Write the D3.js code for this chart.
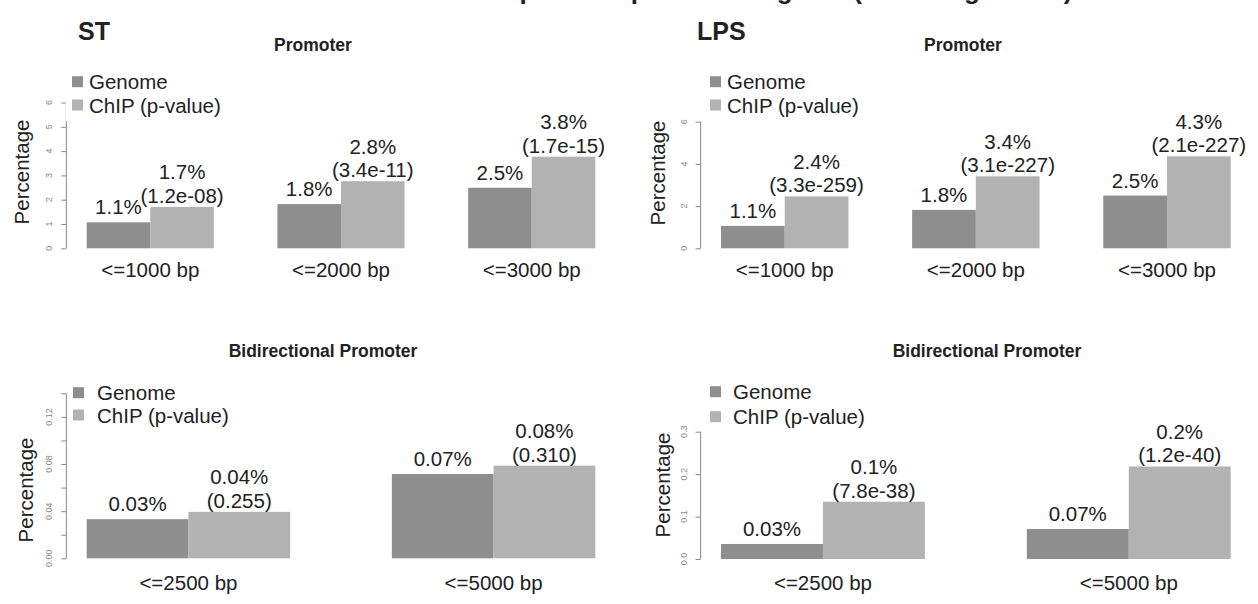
<!DOCTYPE html>
<html lang="en">
<head>
<meta charset="utf-8">
<title>Promoter enrichment</title>
<script src="https://d3js.org/d3.v7.min.js"></script>
<style>
  body { margin: 0; background: white; }
  text { font-family: "Liberation Sans", Arial, sans-serif; fill: #222; }
  .head { font-family: "Liberation Sans Narrow", "Liberation Sans", Arial, sans-serif; font-weight: bold; }
</style>
</head>
<body>
<div id="chart"></div>
<script>
// ---- data ----
var seriesNames = ["Genome", "ChIP (p-value)"];

var promoterCats = ["<=1000 bp", "<=2000 bp", "<=3000 bp"];
var bidirCats = ["<=2500 bp", "<=5000 bp"];

// ST, promoter
var stPromGenome = [1.07, 1.82, 2.49];
var stPromChip = [1.70, 2.76, 3.77];
var stPromGenomeLab = ["1.1%", "1.8%", "2.5%"];
var stPromChipLab = [["1.7%", "(1.2e-08)"], ["2.8%", "(3.4e-11)"], ["3.8%", "(1.7e-15)"]];

// LPS, promoter
var lpsPromGenome = [1.06, 1.82, 2.50];
var lpsPromChip = [2.46, 3.41, 4.36];
var lpsPromGenomeLab = ["1.1%", "1.8%", "2.5%"];
var lpsPromChipLab = [["2.4%", "(3.3e-259)"], ["3.4%", "(3.1e-227)"], ["4.3%", "(2.1e-227)"]];

// ST, bidirectional promoter
var stBiGenome = [0.0332, 0.0715];
var stBiChip = [0.0394, 0.0786];
var stBiGenomeLab = ["0.03%", "0.07%"];
var stBiChipLab = [["0.04%", "(0.255)"], ["0.08%", "(0.310)"]];

// LPS, bidirectional promoter
var lpsBiGenome = [0.0354, 0.0708];
var lpsBiChip = [0.135, 0.218];
var lpsBiGenomeLab = ["0.03%", "0.07%"];
var lpsBiChipLab = [["0.1%", "(7.8e-38)"], ["0.2%", "(1.2e-40)"]];

// y ticks
var promTicksST = [0, 1, 2, 3, 4, 5, 6];
var promTicksLPS = [0, 2, 4, 6];
var biTicksST = [0, 0.02, 0.04, 0.06, 0.08, 0.10, 0.12, 0.14];
var biTickLabST = ["0.00", "", "0.04", "", "0.08", "", "0.12", ""];
var biTicksLPS = [0, 0.1, 0.2, 0.3];
var biTickLabLPS = ["0.0", "0.1", "0.2", "0.3"];

var colors = ["#8e8e8e", "#b2b2b2"];
var fs = "20.5px";

var width = 1258, height = 604;

var svg = d3.select("#chart").append("svg")
  .attr("width", width)
  .attr("height", height);

// page title, mostly cut off at the top edge (as in the source figure)
svg.append("text")
  .attr("class", "head")
  .attr("x", 705).attr("y", -1)
  .attr("text-anchor", "middle")
  .style("font-size", "26px")
  .text("Enrichment of peaks in promoter regions (ChIP vs genome)");

svg.append("text").attr("class", "head")
  .attr("x", 78).attr("y", 40).style("font-size", "25px").text("ST");
svg.append("text").attr("class", "head")
  .attr("x", 697).attr("y", 40).style("font-size", "25px").text("LPS");

// one panel = one R-style barplot
function drawPanel(p) {
  var g = svg.append("g");

  var x0 = d3.scaleBand().domain(p.cats).range(p.xr).paddingInner(1 / 3).paddingOuter(0);
  var x1 = d3.scaleBand().domain(seriesNames).range([0, x0.bandwidth()]);
  var y = d3.scaleLinear().domain([0, p.ymax]).range(p.yr);
  var axisX = p.xr[0] - 0.04 * (p.xr[1] - p.xr[0]);

  // title
  g.append("text").attr("class", "head")
    .attr("x", p.titleX).attr("y", p.titleY)
    .attr("text-anchor", "middle").style("font-size", "17.5px")
    .text(p.title);

  // y axis
  var ax = g.append("g").attr("transform", "translate(" + axisX + ",0)")
    .call(d3.axisLeft(y).tickValues(p.ticks).tickSize(5).tickFormat(""));
  ax.selectAll("path, line").attr("stroke", "#888");
  ax.select(".domain").attr("d", "M0," + y(p.ticks[p.ticks.length - 1]) + "V" + y(0));

  g.selectAll(".tl").data(p.ticks).enter().append("text")
    .attr("transform", function(d) { return "translate(" + (axisX - 14) + "," + y(d) + ") rotate(-90)"; })
    .attr("text-anchor", "middle")
    .style("font-size", "9px").style("fill", "#888")
    .text(function(d, i) { return p.tickLab ? p.tickLab[i] : d; });

  g.append("text")
    .attr("transform", "translate(" + p.ylabX + "," + p.ylabY + ") rotate(-90)")
    .attr("text-anchor", "middle").style("font-size", fs)
    .text("Percentage");

  // bars
  var rows = p.cats.map(function(c, i) {
    return { cat: c, vals: [p.genome[i], p.chip[i]], labs: [[p.genomeLab[i]], p.chipLab[i]] };
  });
  var grp = g.selectAll(".grp").data(rows).enter().append("g")
    .attr("transform", function(d) { return "translate(" + x0(d.cat) + ",0)"; });

  grp.selectAll("rect").data(function(d) { return d.vals; }).enter().append("rect")
    .attr("x", function(d, i) { return x1(seriesNames[i]); })
    .attr("width", x1.bandwidth())
    .attr("y", function(d) { return y(d); })
    .attr("height", function(d) { return y(0) - y(d); })
    .attr("fill", function(d, i) { return colors[i]; });

  grp.each(function(d) {
    var gg = d3.select(this);
    d.vals.forEach(function(v, i) {
      var lines = d.labs[i];
      var cx = x1(seriesNames[i]) + x1.bandwidth() / 2;
      var base = y(v) - (lines.length > 1 ? 4 : 8);
      lines.slice().reverse().forEach(function(t, k) {
        gg.append("text").attr("x", cx).attr("y", base - k * 23.5)
          .attr("text-anchor", "middle").style("font-size", fs).text(t);
      });
    });
  });

  // category labels
  g.selectAll(".cl").data(p.cats).enter().append("text")
    .attr("x", function(d) { return x0(d) + x0.bandwidth() / 2; })
    .attr("y", p.catY).attr("text-anchor", "middle").style("font-size", fs)
    .text(function(d) { return d; });

  // legend (white box hides the top of the axis like in R)
  if (p.legendBg) {
    g.append("rect").attr("x", axisX - 0.5).attr("y", p.legY[0] - 16)
      .attr("width", 200).attr("height", p.legendBg - (p.legY[0] - 16)).attr("fill", "white");
  }
  seriesNames.forEach(function(s, i) {
    g.append("rect").attr("x", p.legX).attr("y", p.legY[i] - 5.5)
      .attr("width", 11).attr("height", 11).attr("fill", colors[i]);
    g.append("text").attr("x", p.legTx).attr("y", p.legY[i] + 7.5)
      .style("font-size", fs).text(s);
  });
}

drawPanel({ title: "Promoter", titleX: 313, titleY: 51, cats: promoterCats,
  genome: stPromGenome, chip: stPromChip, genomeLab: stPromGenomeLab, chipLab: stPromChipLab,
  xr: [86.7, 595.3], ymax: 6, yr: [248.3, 102.5], ticks: promTicksST,
  ylabX: 29, ylabY: 172, catY: 277,
  legX: 72, legTx: 89, legY: [81.7, 105], legendBg: 121 });

drawPanel({ title: "Promoter", titleX: 963, titleY: 51, cats: promoterCats,
  genome: lpsPromGenome, chip: lpsPromChip, genomeLab: lpsPromGenomeLab, chipLab: lpsPromChipLab,
  xr: [721, 1230.7], ymax: 6, yr: [248.3, 121.7], ticks: promTicksLPS,
  ylabX: 665, ylabY: 173, catY: 277,
  legX: 710, legTx: 727, legY: [81.7, 105] });

drawPanel({ title: "Bidirectional Promoter", titleX: 323, titleY: 357, cats: bidirCats,
  genome: stBiGenome, chip: stBiChip, genomeLab: stBiGenomeLab, chipLab: stBiChipLab,
  xr: [86.7, 595.3], ymax: 0.14, yr: [558.3, 393.3], ticks: biTicksST, tickLab: biTickLabST,
  ylabX: 33, ylabY: 490, catY: 590,
  legX: 73, legTx: 97, legY: [392.7, 415] });

drawPanel({ title: "Bidirectional Promoter", titleX: 987, titleY: 357, cats: bidirCats,
  genome: lpsBiGenome, chip: lpsBiChip, genomeLab: lpsBiGenomeLab, chipLab: lpsBiChipLab,
  xr: [721, 1230.7], ymax: 0.3, yr: [559, 431.7], ticks: biTicksLPS, tickLab: biTickLabLPS,
  ylabX: 670, ylabY: 485, catY: 590,
  legX: 710, legTx: 733, legY: [391.7, 416.7] });
</script>
</body>
</html>
